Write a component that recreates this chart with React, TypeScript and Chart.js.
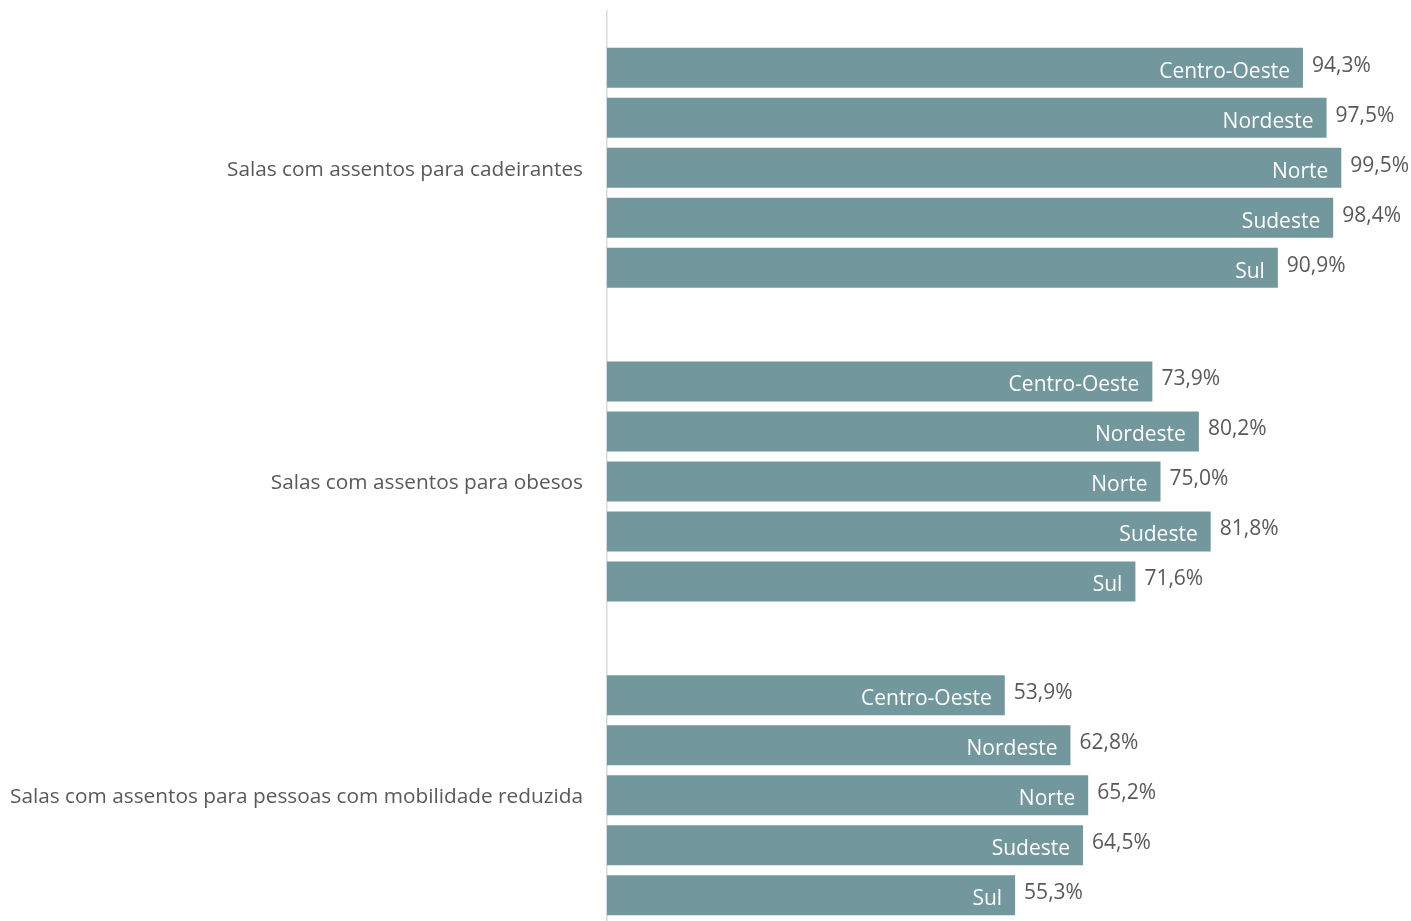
import React, { useEffect, useRef } from "react";
import { Chart, registerables } from "chart.js";

Chart.register(...registerables);

const categories = [
  "Salas com assentos para cadeirantes",
  "Salas com assentos para obesos",
  "Salas com assentos para pessoas com mobilidade reduzida",
];
const regions = ["Centro-Oeste", "Nordeste", "Norte", "Sudeste", "Sul"];
const centroOeste = [94.3, 73.9, 53.9];
const nordeste = [97.5, 80.2, 62.8];
const norte = [99.5, 75.0, 65.2];
const sudeste = [98.4, 81.8, 64.5];
const sul = [90.9, 71.6, 55.3];
const seriesValues = [centroOeste, nordeste, norte, sudeste, sul];

const BAR_COLOR = "#72979d";
const TEXT_COLOR = "#595959";
const FONT = "'Open Sans', 'Noto Sans', sans-serif";

const labelPlugin = {
  id: "barLabels",
  afterDatasetsDraw(chart: any) {
    const ctx = chart.ctx;
    ctx.save();
    ctx.font = `21px ${FONT}`;
    ctx.textBaseline = "middle";
    chart.data.datasets.forEach((ds: any, di: number) => {
      const meta = chart.getDatasetMeta(di);
      meta.data.forEach((bar: any, i: number) => {
        const v = ds.data[i] as number;
        ctx.fillStyle = "#ffffff";
        ctx.textAlign = "right";
        ctx.fillText(ds.label, bar.x - 13, bar.y + 4);
        ctx.fillStyle = TEXT_COLOR;
        ctx.textAlign = "left";
        ctx.fillText(v.toFixed(1).replace(".", ",") + "%", bar.x + 9, bar.y - 2);
      });
    });
    ctx.restore();
  },
};

export default function App() {
  const ref = useRef<HTMLCanvasElement>(null);
  useEffect(() => {
    if (!ref.current) return;
    const chart = new Chart(ref.current, {
      type: "bar",
      data: {
        labels: categories,
        datasets: regions.map((r, i) => ({
          label: r,
          data: seriesValues[i],
          backgroundColor: BAR_COLOR,
          borderWidth: 0,
          barPercentage: 0.8,
          categoryPercentage: 0.797,
        })),
      },
      options: {
        indexAxis: "y",
        animation: false,
        responsive: false,
        maintainAspectRatio: false,
        devicePixelRatio: 1,
        layout: { padding: { top: 11, right: 66, bottom: 1, left: 0 } },
        plugins: {
          legend: { display: false },
          tooltip: { enabled: false },
        },
        scales: {
          x: {
            display: false,
            min: 0,
            max: 100,
          },
          y: {
            grid: { display: false, drawTicks: false },
            border: { display: true, color: "#d9d9d9", width: 1.5 },
            ticks: {
              color: TEXT_COLOR,
              font: { family: FONT, size: 20.8 },
              padding: 24,
              labelOffset: 2,
            },
            afterFit: (scale: any) => {
              scale.width = 607;
              scale.paddingTop = 0;
              scale.paddingBottom = 0;
            },
          },
        },
      },
      plugins: [labelPlugin],
    });
    return () => chart.destroy();
  }, []);

  return (
    <div
      style={{
        position: "fixed",
        top: 0,
        left: 0,
        width: 1411,
        height: 921,
        overflow: "hidden",
        background: "#fff",
      }}
    >
      <canvas
        ref={ref}
        width={1411}
        height={953}
        style={{ display: "block", width: 1411, height: 953 }}
      />
    </div>
  );
}
